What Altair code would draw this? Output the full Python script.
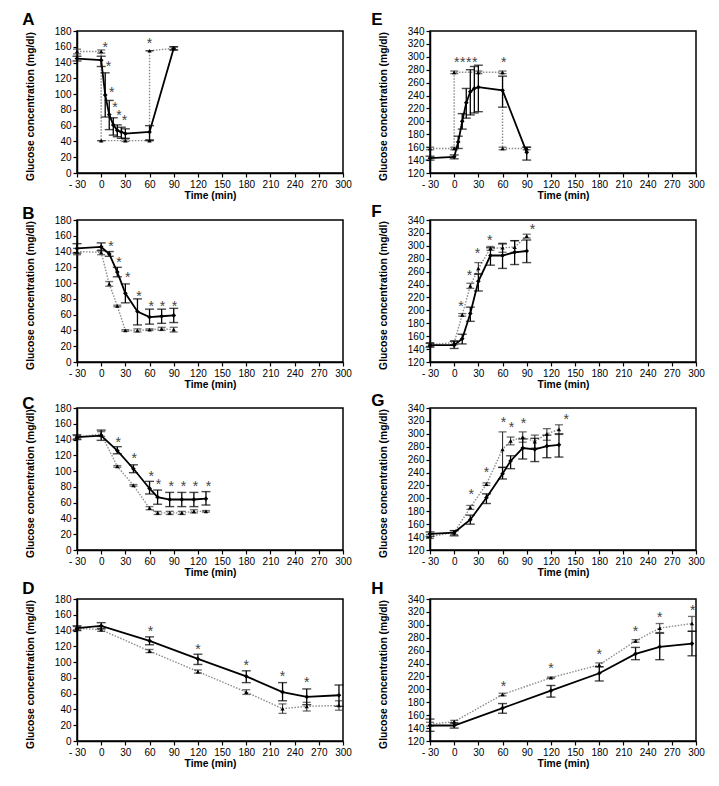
import altair as alt
import pandas as pd

XTICKS = [-30, 0, 30, 60, 90, 120, 150, 180, 210, 240, 270, 300]
Y_LEFT_TICKS = [0, 20, 40, 60, 80, 100, 120, 140, 160, 180]
Y_RIGHT_TICKS = [120, 140, 160, 180, 200, 220, 240, 260, 280, 300, 320, 340]

# ---------------- Panel A ----------------
A_solid_t = [-30, 0, 5, 10, 15, 20, 25, 30, 60, 90]
A_solid_y = [145, 143, 99, 74, 61, 54, 52, 50, 52, 158]
A_solid_lo = [142, 135, 71, 55, 48, 46, 44, 44, 42, 156]
A_solid_hi = [148, 148, 127, 92, 70, 61, 58, 56, 60, 160]
A_dot_t = [-30, 0, 0, 30, 60, 60, 90]
A_dot_y = [154, 154, 41, 41, 41, 155, 158]
A_dot_lo = [151, 152, 41, 40, 41, 155, 156]
A_dot_hi = [157, 156, 41, 43, 41, 155, 160]
A_star_t = [5, 9, 13, 17, 22, 29, 60]
A_star_y = [163, 139, 107, 88, 77, 71, 169]

# ---------------- Panel E ----------------
E_solid_t = [-30, 0, 5, 10, 15, 20, 25, 30, 60, 90]
E_solid_y = [143, 145, 168, 200, 229, 246, 251, 253, 248, 152]
E_solid_lo = [140, 142, 158, 188, 205, 210, 213, 215, 222, 140]
E_solid_hi = [146, 148, 177, 212, 251, 280, 285, 287, 270, 160]
E_dot_t = [-30, 0, 0, 30, 60, 60, 90]
E_dot_y = [158, 158, 276, 276, 276, 158, 158]
E_dot_lo = [156, 156, 274, 274, 274, 156, 156]
E_dot_hi = [160, 160, 278, 278, 278, 160, 160]
E_star_t = [3, 10.5, 18, 25.5, 61.5]
E_star_y = [297, 297, 297, 297, 297]

# ---------------- Panel B ----------------
B_solid_t = [-30, 0, 10, 20, 30, 45, 60, 75, 90]
B_solid_y = [144, 146, 137, 114, 87, 64, 57, 58, 59]
B_solid_lo = [138, 141, 134, 108, 75, 47, 48, 49, 50]
B_solid_hi = [150, 151, 140, 120, 99, 80, 67, 67, 68]
B_dot_t = [-30, 0, 10, 20, 30, 45, 60, 75, 90]
B_dot_y = [140, 139, 99, 71, 40, 40, 41, 42, 41]
B_dot_lo = [136, 136, 96, 70, 39, 38, 40, 40, 38]
B_dot_hi = [144, 142, 102, 72, 41, 42, 42, 44, 44]
B_star_t = [12, 22, 33, 47, 62, 76, 91]
B_star_y = [151, 130, 112, 87, 75, 75, 75]

# ---------------- Panel F ----------------
F_solid_t = [-30, 0, 10, 20, 30, 45, 60, 75, 90]
F_solid_y = [146, 146, 156, 195, 245, 285, 285, 290, 292]
F_solid_lo = [143, 141, 148, 183, 230, 270, 265, 271, 274]
F_solid_hi = [149, 152, 163, 205, 256, 297, 303, 308, 309]
F_dot_t = [-30, 0, 10, 20, 30, 45, 60, 75, 90]
F_dot_y = [147, 150, 193, 238, 265, 296, 297, 298, 315]
F_dot_lo = [144, 147, 191, 234, 257, 293, 290, 290, 312]
F_dot_hi = [150, 153, 195, 242, 274, 299, 304, 308, 318]
F_star_t = [8.5, 19, 29, 44, 97]
F_star_y = [212, 259, 293, 314, 331]

# ---------------- Panel C ----------------
C_solid_t = [-30, 0, 20, 40, 60, 70, 85, 100, 115, 130]
C_solid_y = [143, 145, 126, 103, 78, 67, 64, 64, 64, 65]
C_solid_lo = [140, 139, 122, 98, 71, 58, 55, 55, 55, 57]
C_solid_hi = [146, 152, 131, 108, 87, 76, 73, 73, 73, 74]
C_dot_t = [-30, 0, 20, 40, 60, 70, 85, 100, 115, 130]
C_dot_y = [143, 147, 106, 82, 53, 47, 47, 47, 49, 49]
C_dot_lo = [141, 144, 105, 81, 51, 45, 45, 45, 47, 48]
C_dot_hi = [145, 150, 107, 83, 55, 49, 49, 49, 51, 50]
C_star_t = [21, 41, 62, 71, 87, 102, 117, 133]
C_star_y = [141, 121, 98, 88, 85, 85, 85, 85]

# ---------------- Panel G ----------------
G_solid_t = [-30, 0, 20, 40, 60, 70, 85, 100, 115, 130]
G_solid_y = [145, 147, 167, 201, 238, 258, 278, 276, 281, 283]
G_solid_lo = [141, 142, 160, 192, 230, 246, 261, 257, 263, 264]
G_solid_hi = [148, 150, 174, 207, 248, 266, 292, 293, 298, 300]
G_dot_t = [-30, 0, 20, 40, 60, 70, 85, 100, 115, 130]
G_dot_y = [141, 147, 186, 222, 276, 289, 295, 288, 300, 307]
G_dot_lo = [138, 144, 183, 220, 248, 283, 287, 278, 290, 299]
G_dot_hi = [144, 150, 189, 224, 303, 295, 303, 298, 308, 314]
G_star_t = [21, 40, 61, 71, 86, 139]
G_star_y = [212, 245, 323, 315, 321, 327]

# ---------------- Panel D ----------------
D_solid_t = [-30, 0, 60, 120, 180, 225, 255, 295]
D_solid_y = [143, 146, 127, 104, 82, 62, 56, 58]
D_solid_lo = [140, 142, 122, 97, 74, 51, 46, 44]
D_solid_hi = [146, 150, 132, 110, 89, 74, 66, 71]
D_dot_t = [-30, 0, 60, 120, 180, 225, 255, 295]
D_dot_y = [143, 141, 114, 88, 62, 41, 44, 45]
D_dot_lo = [141, 139, 112, 86, 59, 35, 38, 39]
D_dot_hi = [145, 143, 116, 90, 65, 47, 49, 51]
D_star_t = [61, 120, 180, 225, 255]
D_star_y = [143, 121, 100, 86, 79]

# ---------------- Panel H ----------------
H_solid_t = [-30, 0, 60, 120, 180, 225, 255, 295]
H_solid_y = [144, 144, 171, 198, 225, 255, 266, 271]
H_solid_lo = [135, 140, 163, 188, 213, 246, 246, 252]
H_solid_hi = [154, 148, 178, 206, 235, 265, 287, 290]
H_dot_t = [-30, 0, 60, 120, 180, 225, 255, 295]
H_dot_y = [146, 150, 192, 218, 238, 275, 295, 302]
H_dot_lo = [143, 148, 190, 217, 235, 273, 288, 290]
H_dot_hi = [149, 152, 194, 219, 241, 277, 302, 313]
H_star_t = [61, 120, 180, 225, 255, 296]
H_star_y = [210, 237, 260, 295, 317, 327]

FONT = "Liberation Sans"
W, H = 266, 142
CAP = "M-1,0L1,0"


def make_panel(letter, st, sy, slo, shi, dt, dyv, dlo, dhi, star_t, star_y,
               ydom, yticks, toff, tdx):
    solid = pd.DataFrame({"t": st, "v": sy, "lo": slo, "hi": shi,
                          "o": list(range(len(st)))})
    dotted = pd.DataFrame({"t": dt, "v": dyv, "lo": dlo, "hi": dhi,
                           "o": list(range(len(dt)))})
    stars = pd.DataFrame({"t": star_t, "v": star_y})

    xs = alt.Scale(domain=[-30, 300], nice=False, zero=False)
    ys = alt.Scale(domain=ydom, nice=False, zero=False)
    xax = alt.Axis(values=XTICKS, title="Time (min)", labelFlush=False,
                   labelExpr="datum.value < 0 ? '- ' + abs(datum.value) : datum.label")
    yax = alt.Axis(values=yticks, title="Glucose concentration (mg/dl)", titleY=H / 2 + 4)

    def X():
        return alt.X("t:Q", scale=xs, axis=xax)

    def Y(f):
        return alt.Y(f + ":Q", scale=ys, axis=yax)

    bs = alt.Chart(solid)
    bd = alt.Chart(dotted)
    layers = [
        bd.mark_line(color="#8c8c8c", strokeWidth=1.4, strokeDash=[1.5, 1.5]).encode(
            x=X(), y=Y("v"), order="o:Q"),
        bd.mark_rule(color="#333", strokeWidth=1.1).encode(x=X(), y=Y("lo"), y2="hi:Q"),
        bd.mark_point(shape=CAP, size=64, filled=False, color="#333", strokeWidth=1.3).encode(
            x=X(), y=Y("lo")),
        bd.mark_point(shape=CAP, size=64, filled=False, color="#333", strokeWidth=1.3).encode(
            x=X(), y=Y("hi")),
        bs.mark_line(color="black", strokeWidth=1.8).encode(x=X(), y=Y("v"), order="o:Q"),
        bs.mark_rule(color="black", strokeWidth=1.3).encode(x=X(), y=Y("lo"), y2="hi:Q"),
        bs.mark_point(shape=CAP, size=81, filled=False, color="black", strokeWidth=1.4).encode(
            x=X(), y=Y("lo")),
        bs.mark_point(shape=CAP, size=81, filled=False, color="black", strokeWidth=1.4).encode(
            x=X(), y=Y("hi")),
        bd.mark_point(shape="triangle-up", filled=True, size=18, color="black", opacity=1).encode(
            x=X(), y=Y("v")),
        bs.mark_point(shape="diamond", filled=True, size=22, color="black", opacity=1).encode(
            x=X(), y=Y("v")),
        alt.Chart(stars).mark_text(text="*", font=FONT, fontSize=14, baseline="middle",
                                   dy=4, color="#444").encode(x=X(), y=Y("v")),
    ]
    return alt.layer(*layers).properties(
        width=W, height=H,
        title=alt.TitleParams(text=letter, anchor="start", frame="bounds", font=FONT,
                              fontSize=17, fontWeight="bold", color="black",
                              offset=toff, dx=tdx),
    )


L = [0, 180]
R = [120, 340]
pA = make_panel("A", A_solid_t, A_solid_y, A_solid_lo, A_solid_hi, A_dot_t, A_dot_y, A_dot_lo, A_dot_hi,
                A_star_t, A_star_y, L, Y_LEFT_TICKS, -3, -3)
pE = make_panel("E", E_solid_t, E_solid_y, E_solid_lo, E_solid_hi, E_dot_t, E_dot_y, E_dot_lo, E_dot_hi,
                E_star_t, E_star_y, R, Y_RIGHT_TICKS, -3, -7)
pB = make_panel("B", B_solid_t, B_solid_y, B_solid_lo, B_solid_hi, B_dot_t, B_dot_y, B_dot_lo, B_dot_hi,
                B_star_t, B_star_y, L, Y_LEFT_TICKS, -8, -3)
pF = make_panel("F", F_solid_t, F_solid_y, F_solid_lo, F_solid_hi, F_dot_t, F_dot_y, F_dot_lo, F_dot_hi,
                F_star_t, F_star_y, R, Y_RIGHT_TICKS, -6, -7)
pC = make_panel("C", C_solid_t, C_solid_y, C_solid_lo, C_solid_hi, C_dot_t, C_dot_y, C_dot_lo, C_dot_hi,
                C_star_t, C_star_y, L, Y_LEFT_TICKS, -10, -3)
pG = make_panel("G", G_solid_t, G_solid_y, G_solid_lo, G_solid_hi, G_dot_t, G_dot_y, G_dot_lo, G_dot_hi,
                G_star_t, G_star_y, R, Y_RIGHT_TICKS, -7, -7)
pD = make_panel("D", D_solid_t, D_solid_y, D_solid_lo, D_solid_hi, D_dot_t, D_dot_y, D_dot_lo, D_dot_hi,
                D_star_t, D_star_y, L, Y_LEFT_TICKS, -4, -3)
pH = make_panel("H", H_solid_t, H_solid_y, H_solid_lo, H_solid_hi, H_dot_t, H_dot_y, H_dot_lo, H_dot_hi,
                H_star_t, H_star_y, R, Y_RIGHT_TICKS, -4, -7)

chart = alt.concat(pA, pE, pB, pF, pC, pG, pD, pH, columns=2,
                   spacing={"row": 0, "column": 17}).properties(
    padding={"left": 13, "top": 2, "right": 5, "bottom": 5}
).configure_axis(
    domainColor="black", domainWidth=1.5, tickColor="black", tickWidth=1.2, tickSize=4,
    labelFont=FONT, labelFontSize=10, labelColor="black", labelPadding=2,
    titleFont=FONT, titleFontSize=10.3, titleFontWeight="bold", titleColor="black", grid=False,
).configure_axisY(titlePadding=19).configure_axisX(titlePadding=1).configure_view(
    stroke="black", strokeWidth=1.5
)

chart.save("out.html", embed_options={"renderer": "svg", "actions": False})
